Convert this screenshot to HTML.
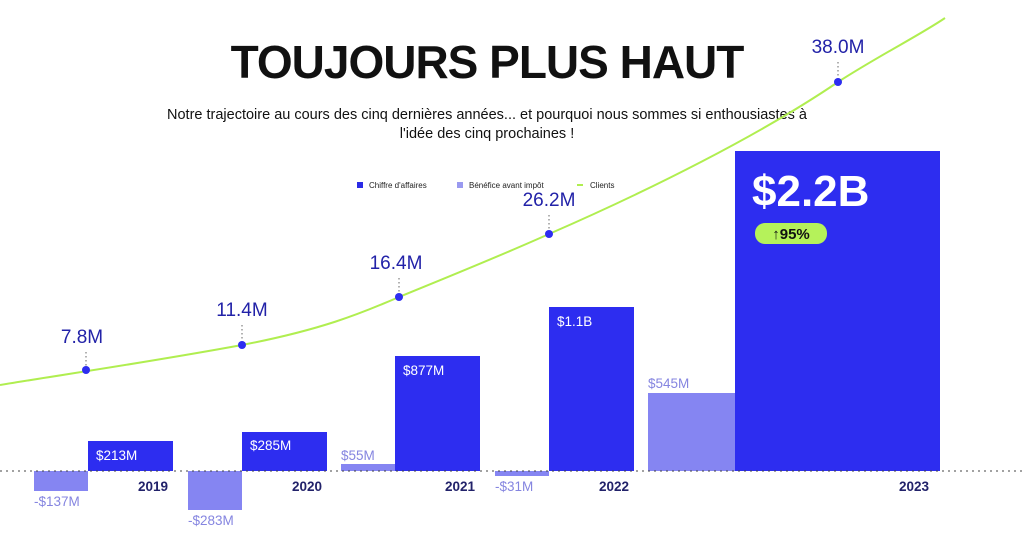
<!DOCTYPE html>
<html><head><meta charset="utf-8"><style>
body{margin:0;background:#fff;}
svg text{font-family:"Liberation Sans",sans-serif;}
</style></head><body>
<svg width="1024" height="537" viewBox="0 0 1024 537" xmlns="http://www.w3.org/2000/svg">
<rect width="1024" height="537" fill="#fff"/>
<text x="487" y="78" text-anchor="middle" font-size="46" font-weight="bold" fill="#111" letter-spacing="-1">TOUJOURS PLUS HAUT</text>
<text x="487" y="119" text-anchor="middle" font-size="14.5" fill="#111">Notre trajectoire au cours des cinq dernières années... et pourquoi nous sommes si enthousiastes à</text>
<text x="487" y="138" text-anchor="middle" font-size="14.5" fill="#111">l'idée des cinq prochaines !</text>
<rect x="357" y="182" width="6" height="6" fill="#2b2be6"/>
<text x="369" y="188" font-size="8" fill="#222">Chiffre d'affaires</text>
<rect x="457" y="182" width="6" height="6" fill="#9a9af0"/>
<text x="469" y="188" font-size="8" fill="#222">Bénéfice avant impôt</text>
<line x1="577" y1="185" x2="583" y2="185" stroke="#b0ee50" stroke-width="2"/>
<text x="590" y="188" font-size="8" fill="#222">Clients</text>
<g fill="#8585f2">
<rect x="34" y="471" width="54" height="20"/>
<rect x="188" y="471" width="54" height="39"/>
<rect x="341" y="464" width="54" height="7"/>
<rect x="495" y="471" width="54" height="5"/>
<rect x="648" y="393" width="87" height="78"/>
</g>
<g fill="#2d2df0">
<rect x="88" y="441" width="85" height="30"/>
<rect x="242" y="432" width="85" height="39"/>
<rect x="395" y="356" width="85" height="115"/>
<rect x="549" y="307" width="85" height="164"/>
<rect x="735" y="151" width="205" height="320"/>
</g>
<line x1="0" y1="471" x2="1024" y2="471" stroke="#444" stroke-width="1" stroke-dasharray="2,4"/>
<g font-size="13.5" fill="#fff">
<text x="96" y="460">$213M</text>
<text x="250" y="450">$285M</text>
<text x="403" y="375">$877M</text>
<text x="557" y="326">$1.1B</text>
</g>
<text x="752" y="206" font-size="44" font-weight="bold" fill="#fff">$2.2B</text>
<rect x="755" y="223" width="72" height="21" rx="10" fill="#b5f25a"/>
<text x="791" y="239" text-anchor="middle" font-size="15" font-weight="bold" fill="#111">↑95%</text>
<g font-size="13.5" fill="#8585e0">
<text x="34" y="506">-$137M</text>
<text x="188" y="525">-$283M</text>
<text x="341" y="460">$55M</text>
<text x="495" y="491">-$31M</text>
<text x="648" y="388">$545M</text>
</g>
<g font-size="13.5" font-weight="bold" fill="#22226a" text-anchor="end">
<text x="168" y="491">2019</text>
<text x="322" y="491">2020</text>
<text x="475" y="491">2021</text>
<text x="629" y="491">2022</text>
<text x="929" y="491">2023</text>
</g>
<path d="M0,385 C60,375 150,362 242,345 C320,330 360,314 399,297 C460,272 500,256 549,234 C650,190 760,135 838,82 C880,55 920,35 945,18" fill="none" stroke="#b0ee50" stroke-width="2"/>
<g stroke="#666" stroke-dasharray="1.5,2.5">
<line x1="86" y1="352" x2="86" y2="368"/>
<line x1="242" y1="325" x2="242" y2="343"/>
<line x1="399" y1="278" x2="399" y2="295"/>
<line x1="549" y1="215" x2="549" y2="232"/>
<line x1="838" y1="62" x2="838" y2="80"/>
</g>
<g fill="#2d2df0">
<circle cx="86" cy="370" r="4"/><circle cx="242" cy="345" r="4"/><circle cx="399" cy="297" r="4"/><circle cx="549" cy="234" r="4"/><circle cx="838" cy="82" r="4"/>
</g>
<g font-size="19" fill="#2222a8" text-anchor="middle">
<text x="82" y="343">7.8M</text>
<text x="242" y="316">11.4M</text>
<text x="396" y="269">16.4M</text>
<text x="549" y="206">26.2M</text>
<text x="838" y="53">38.0M</text>
</g>
</svg>
</body></html>
